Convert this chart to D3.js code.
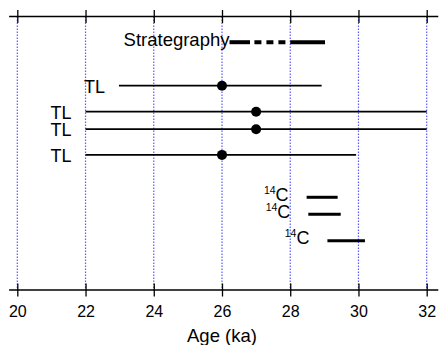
<!DOCTYPE html>
<html>
<head>
<meta charset="utf-8">
<script src="https://cdn.jsdelivr.net/npm/d3@7"></script>
<style>
  body { margin: 0; background: #fff; }
  text { font-family: "Liberation Sans", Arial, sans-serif; fill: #000; }
</style>
</head>
<body>
<div id="chart"></div>
<script>
// axis ticks (ka)
var ageTicks = [20, 22, 24, 26, 28, 30, 32];
var axisExtent = [19.76, 32.34];

// stratigraphy: solid = well constrained, dashed = uncertain
var stratRow = 0.94;
var stratSegments = [
  {from: 26.22, to: 26.82, certain: true},
  {from: 26.95, to: 28.0, certain: false},
  {from: 28.0, to: 29.02, certain: true}
];

// TL ages: range and central value
var tlRows = [2.53, 3.48, 4.12, 5.06];
var tlMin = [22.98, 22.0, 22.0, 22.0];
var tlMax = [28.92, 32.0, 32.0, 29.93];
var tlAge = [26.0, 27.0, 27.0, 26.0];

// 14C ages
var c14Rows = [6.61, 7.23, 8.2];
var c14Min = [28.48, 28.53, 29.09];
var c14Max = [29.39, 29.48, 30.19];

var width = 443, height = 345;
var svg = d3.select("#chart").append("svg")
    .attr("width", width).attr("height", height);

var x = d3.scaleLinear().domain([20, 32]).range([17.3, 426.7]);
var y = d3.scaleLinear().domain([0, 10]).range([16.5, 290]);

// grid
svg.append("g").selectAll("line").data(ageTicks).join("line")
    .attr("x1", d => x(d)).attr("x2", d => x(d))
    .attr("y1", y(0)).attr("y2", y(10))
    .attr("stroke", "#5a5aff").attr("stroke-width", 1.2)
    .attr("stroke-dasharray", "1.5,1.5");

// axes (top and bottom, ticks crossing the line)
function drawAxis(yPos, labels) {
  var g = svg.append("g").attr("transform", "translate(0," + yPos + ")");
  g.append("line")
      .attr("x1", x(axisExtent[0])).attr("x2", x(axisExtent[1]))
      .attr("stroke", "#000").attr("stroke-width", 1.3);
  var ax = d3.axisBottom(x).tickValues(ageTicks).tickSize(6.5).tickFormat(d3.format("d"));
  g.call(ax);
  g.select(".domain").remove();
  g.selectAll(".tick line").attr("y1", -6.5).attr("y2", 6.5)
      .attr("stroke", "#000").attr("stroke-width", 1.3);
  if (labels) {
    g.selectAll(".tick text").attr("y", 27).attr("dy", null)
        .style("font-family", '"Liberation Sans", Arial, sans-serif')
        .style("font-size", "16px").attr("fill", "#000");
  } else {
    g.selectAll(".tick text").remove();
  }
}
drawAxis(y(0), false);
drawAxis(y(10), true);

svg.append("text")
    .attr("x", (x(20) + x(32)) / 2).attr("y", 342)
    .attr("text-anchor", "middle").style("font-size", "18.5px")
    .text("Age (ka)");

// stratigraphy
svg.append("g").selectAll("line").data(stratSegments).join("line")
    .attr("x1", d => x(d.from)).attr("x2", d => x(d.to))
    .attr("y1", y(stratRow)).attr("y2", y(stratRow))
    .attr("stroke", "#000").attr("stroke-width", 4)
    .attr("stroke-dasharray", d => d.certain ? null : "7,5");
svg.append("text")
    .attr("x", x(stratSegments[0].from)).attr("y", y(stratRow) + 4)
    .attr("text-anchor", "end").style("font-size", "18.5px")
    .text("Strategraphy");

// TL
var tl = svg.append("g").selectAll("g").data(tlRows).join("g");
tl.append("line")
    .attr("x1", (d, i) => x(tlMin[i])).attr("x2", (d, i) => x(tlMax[i]))
    .attr("y1", d => y(d)).attr("y2", d => y(d))
    .attr("stroke", "#000").attr("stroke-width", 1.8);
tl.append("circle")
    .attr("cx", (d, i) => x(tlAge[i])).attr("cy", d => y(d)).attr("r", 5)
    .attr("fill", "#000");
tl.append("text")
    .attr("x", (d, i) => x(tlMin[i]) - 14).attr("y", d => y(d) + 7)
    .attr("text-anchor", "end").style("font-size", "18px")
    .text("TL");

// 14C
var c14 = svg.append("g").selectAll("g").data(c14Rows).join("g");
c14.append("line")
    .attr("x1", (d, i) => x(c14Min[i])).attr("x2", (d, i) => x(c14Max[i]))
    .attr("y1", d => y(d)).attr("y2", d => y(d))
    .attr("stroke", "#000").attr("stroke-width", 3);
var lab = c14.append("text")
    .attr("x", (d, i) => x(c14Min[i]) - 18).attr("y", d => y(d) + 3.5)
    .attr("text-anchor", "end").style("font-size", "18px");
lab.append("tspan").attr("dy", -7).style("font-size", "10.5px").text("14");
lab.append("tspan").attr("dy", 7).text("C");
</script>
</body>
</html>
